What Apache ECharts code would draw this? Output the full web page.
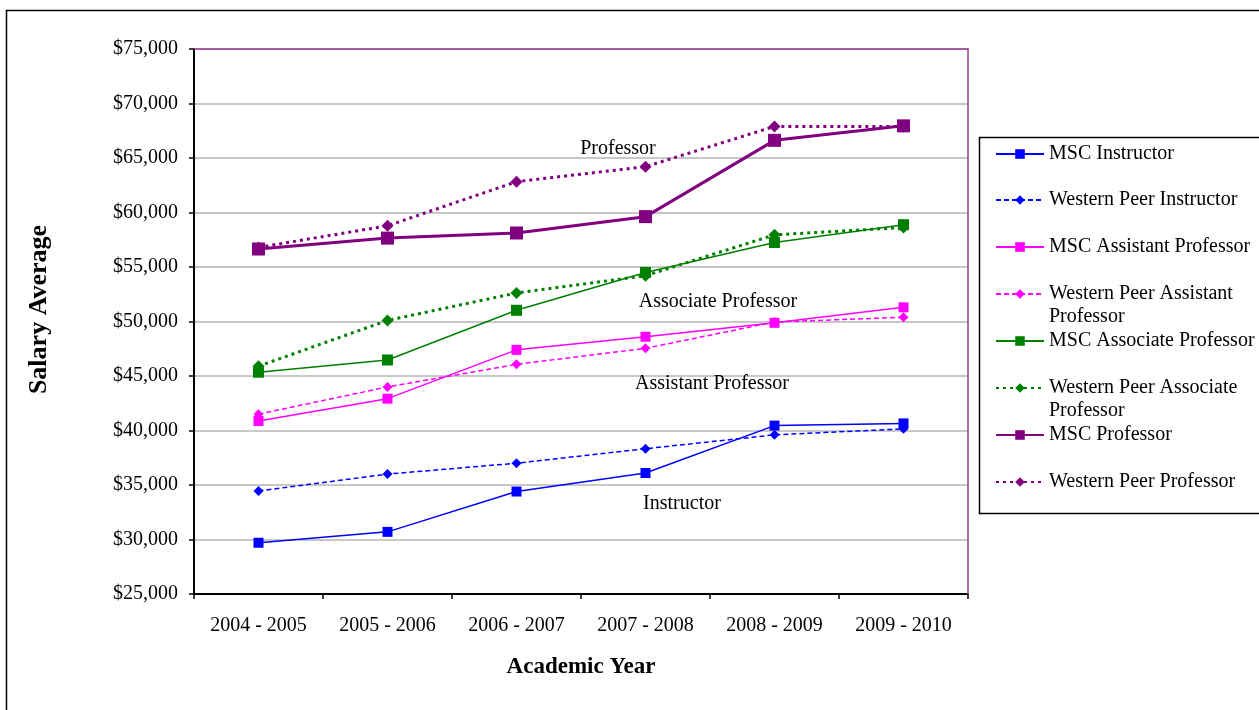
<!DOCTYPE html>
<html>
<head>
<meta charset="utf-8">
<script src="https://cdn.jsdelivr.net/npm/echarts@6/dist/echarts.min.js"></script>
<style>
html, body { margin: 0; padding: 0; background: #ffffff; }
#chart { width: 1259px; height: 710px; }
</style>
</head>
<body>
<div id="chart"></div>
<script>
// Academic years on the category axis
const years = ['2004 - 2005', '2005 - 2006', '2006 - 2007', '2007 - 2008', '2008 - 2009', '2009 - 2010'];

// Average salaries by rank (MSC vs. western peer institutions)
const mscInstructor  = [29700, 30700, 34400, 36100, 40450, 40650];
const peerInstructor = [34450, 36000, 37000, 38330, 39600, 40150];
const mscAssistant   = [40870, 42920, 47400, 48600, 49880, 51300];
const peerAssistant  = [41500, 44000, 46070, 47540, 49950, 50390];
const mscAssociate   = [45350, 46470, 51030, 54500, 57250, 58880];
const peerAssociate  = [45900, 50100, 52620, 54200, 57950, 58620];
const mscProfessor   = [56650, 57650, 58120, 59620, 66620, 67950];
const peerProfessor  = [56800, 58780, 62830, 64200, 67900, 67900];

// Value axis range
const yMin = 25000, yMax = 75000, yStep = 5000;

// Rank captions written inside the plot
const rankCaptions = ['Professor', 'Associate Professor', 'Assistant Professor', 'Instructor'];

const FONT = '"Liberation Serif", "Times New Roman", serif';
const BLUE = '#0000ff', PINK = '#ff00ff', GREEN = '#008000', PURPLE = '#800080';
const FRAME = '#9a3a9a';
const DOTS = [3, 4];
const DASH = [5, 3];

const seriesDefs = [
  { name: 'MSC Instructor', data: mscInstructor, color: BLUE, symbol: 'rect', size: 10, width: 1.5, type: 'solid' },
  { name: 'Western Peer Instructor', data: peerInstructor, color: BLUE, symbol: 'diamond', size: 10, width: 1.5, type: DASH },
  { name: 'MSC Assistant Professor', data: mscAssistant, color: PINK, symbol: 'rect', size: 10, width: 1.5, type: 'solid' },
  { name: 'Western Peer Assistant Professor', data: peerAssistant, color: PINK, symbol: 'diamond', size: 10, width: 1.5, type: DASH, wrap: ['Western Peer Assistant', 'Professor'] },
  { name: 'MSC Associate Professor', data: mscAssociate, color: GREEN, symbol: 'rect', size: 11, width: 1.5, type: 'solid' },
  { name: 'Western Peer Associate Professor', data: peerAssociate, color: GREEN, symbol: 'diamond', size: 12, width: 3, type: DOTS, wrap: ['Western Peer Associate', 'Professor'] },
  { name: 'MSC Professor', data: mscProfessor, color: PURPLE, symbol: 'rect', size: 13, width: 3, type: 'solid' },
  { name: 'Western Peer Professor', data: peerProfessor, color: PURPLE, symbol: 'diamond', size: 12, width: 3, type: DOTS }
];

const series = seriesDefs.map(d => ({
  name: d.name,
  type: 'line',
  data: d.data,
  xAxisIndex: 0,
  yAxisIndex: 0,
  symbol: d.symbol,
  symbolSize: d.size,
  showAllSymbol: true,
  itemStyle: { color: d.color },
  lineStyle: { color: d.color, width: d.width, type: d.type, cap: 'butt' },
  emphasis: { disabled: true },
  z: 3
}));

// One legend block per entry so each row keeps the same vertical pitch
const legendRows = [153, 199, 246, 293, 340, 387, 434, 481];
const LINE_H = 23;
const legends = seriesDefs.map((d, i) => {
  // wrapped names get an empty leading line so the first text line sits beside the icon
  const text = d.wrap ? ' \n' + d.wrap.join('\n') : d.name;
  const half = d.wrap ? LINE_H * 1.5 : LINE_H / 2;
  return {
    data: [d.name],
    orient: 'vertical',
    left: 995,
    top: legendRows[i] - half + 1,
    padding: 0,
    itemWidth: 48,
    itemHeight: 12,
    selectedMode: false,
    formatter: () => text,
    textStyle: { fontFamily: FONT, fontSize: 20, color: '#000', lineHeight: LINE_H }
  };
});

const captionPos = [[618, 149], [718, 302], [712, 384], [682, 504]];
const captions = rankCaptions.map((t, i) => ({
  type: 'text',
  x: captionPos[i][0],
  y: captionPos[i][1],
  z: 10,
  style: { text: t, fontFamily: FONT, fontSize: 20, fill: '#000', align: 'center', verticalAlign: 'middle' }
}));

const chart = echarts.init(document.getElementById('chart'), null, { renderer: 'canvas' });
chart.setOption({
  animation: false,
  backgroundColor: '#ffffff',
  grid: { left: 194, top: 49, right: 291, bottom: 116, show: false },
  xAxis: [{
    type: 'category',
    data: years,
    boundaryGap: true,
    name: 'Academic Year',
    nameLocation: 'middle',
    nameGap: 62,
    nameTextStyle: { fontFamily: FONT, fontSize: 23, fontWeight: 'bold', color: '#000' },
    axisLine: { lineStyle: { color: '#000', width: 2 } },
    axisTick: { show: true, length: 5, lineStyle: { color: '#000', width: 1.5 } },
    axisLabel: { fontFamily: FONT, fontSize: 20, color: '#000', margin: 22 },
    splitLine: { show: false },
    z: 4
  }, {
    // purple frame along the top of the plot
    type: 'category',
    data: years,
    position: 'top',
    axisLine: { show: true, lineStyle: { color: FRAME, width: 1.5 } },
    axisTick: { show: false },
    axisLabel: { show: false },
    splitLine: { show: false },
    z: 5
  }],
  yAxis: [{
    type: 'value',
    min: yMin, max: yMax, interval: yStep,
    name: 'Salary Average',
    nameLocation: 'middle',
    nameGap: 142,
    nameTextStyle: { fontFamily: FONT, fontSize: 26, fontWeight: 'bold', color: '#000', padding: [0, 0, 0, 24] },
    axisLine: { show: true, lineStyle: { color: '#000', width: 2 } },
    axisTick: { show: true, length: 5, lineStyle: { color: '#000', width: 1.5 } },
    axisLabel: {
      fontFamily: FONT, fontSize: 20, color: '#000', margin: 16,
      formatter: v => '$' + v.toLocaleString('en-US')
    },
    splitLine: { show: true, lineStyle: { color: '#c8c8c8', width: 2 } },
    z: 2
  }, {
    // purple frame along the right side of the plot
    type: 'value',
    min: yMin, max: yMax, interval: yStep,
    position: 'right',
    axisLine: { show: true, lineStyle: { color: FRAME, width: 1.5 } },
    axisTick: { show: false },
    axisLabel: { show: false },
    splitLine: { show: false },
    z: 5
  }],
  legend: legends,
  series: series,
  graphic: [
    { type: 'rect', shape: { x: 6.5, y: 10.5, width: 1400, height: 900 }, style: { fill: 'none', stroke: '#000', lineWidth: 1.5 }, z: -10, silent: true },
    { type: 'rect', shape: { x: 979.5, y: 137.5, width: 400, height: 376 }, style: { fill: '#fff', stroke: '#000', lineWidth: 1.5 }, z: -5, silent: true }
  ].concat(captions)
});
</script>
</body>
</html>
